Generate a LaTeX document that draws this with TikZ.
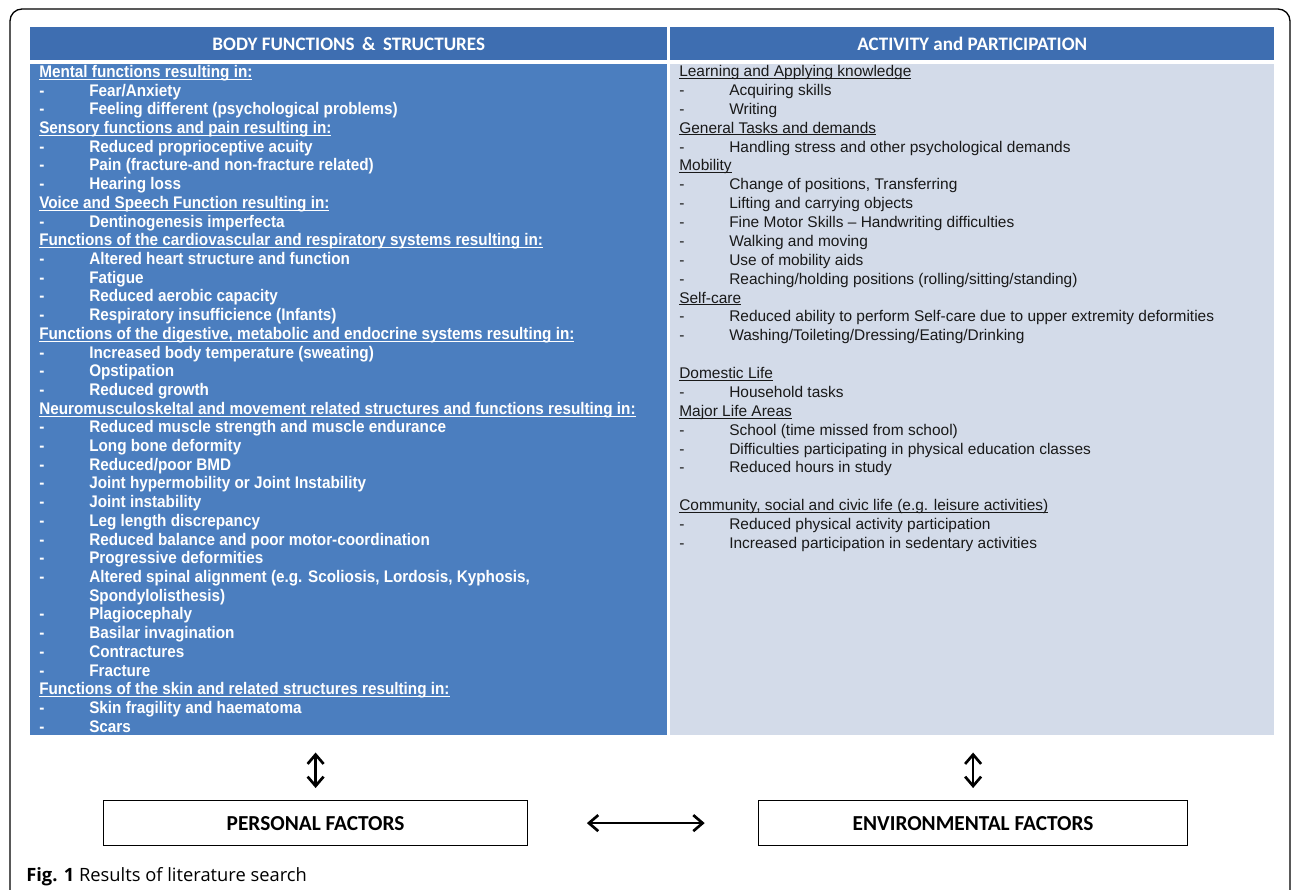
\documentclass[tikz,border=0pt]{standalone}
\usepackage{fontspec}
\setmainfont{Liberation Sans}
\newfontfamily\narrowfont[FakeStretch=0.91]{Liberation Sans}
\newfontfamily\calfont{Carlito}
\newfontfamily\captfont{Open Sans}
\usetikzlibrary{arrows.meta,positioning,calc}

\definecolor{headblue}{HTML}{3E6EB1}
\definecolor{bodyblue}{HTML}{4B7EBF}
\definecolor{paleblue}{HTML}{D3DBE9}

\newcommand{\itm}{\makebox[37.5pt][l]{-}}
\newcommand{\ulhead}[1]{\setbox0\hbox{#1}\rlap{\rule[-1.6pt]{\wd0}{0.6pt}}\box0}

\tikzset{
headbar/.style = {rectangle, text=white, font=\calfont\bfseries\fontsize{14.3}{16}\selectfont, minimum height=24.75pt, inner sep=0pt},
colbox/.style  = {rectangle, minimum height=503.25pt, inner sep=0pt},
bodytext/.style = {align=left, inner sep=0pt, text=white, font=\narrowfont\bfseries\fontsize{12.6}{14.03}\selectfont},
acttext/.style = {align=left, inner sep=0pt, text=black!90, font=\fontsize{11.6}{14.16}\selectfont},
factor/.style = {draw, line width=0.9pt, fill=white, rectangle, minimum height=33.75pt, font=\calfont\bfseries\fontsize{16}{18}\selectfont},
biarrow/.style = {<->, line width=2pt}
}

\begin{document}
\begin{tikzpicture}[x=0.75pt, y=-0.75pt, >={Straight Barb[length=7pt,width=12pt]}]
\clip (0,0) rectangle (1292,889);
\useasboundingbox (0,0) rectangle (1292,889);

% outer frame
\draw[line width=1pt, rounded corners=9pt] (10,900) -- (10,9) -- (1290,9) -- (1290,900);

% column headers
\node[headbar, fill=headblue, minimum width=477.75pt, anchor=north west] (bodyhead) at (30,27) {BODY FUNCTIONS~\,\&~\,STRUCTURES};
\node[headbar, fill=headblue, minimum width=453pt, anchor=north west] (acthead) at (670,27) {ACTIVITY and PARTICIPATION};

% column bodies
\node[colbox, fill=bodyblue, minimum width=477.75pt, anchor=north west] (bodybox) at (30,64) {};
\node[colbox, fill=paleblue, minimum width=453pt, anchor=north west] (actbox) at (670,64) {};

\node[bodytext, anchor=north west] (bodylist) at (39,65) {%
\ulhead{Mental functions resulting in:}\\
\itm Fear/Anxiety\\
\itm Feeling different (psychological problems)\\
\ulhead{Sensory functions and pain resulting in:}\\
\itm Reduced proprioceptive acuity\\
\itm Pain (fracture-and non-fracture related)\\
\itm Hearing loss\\
\ulhead{Voice and Speech Function resulting in:}\\
\itm Dentinogenesis imperfecta\\
\ulhead{Functions of the cardiovascular and respiratory systems resulting in:}\\
\itm Altered heart structure and function\\
\itm Fatigue\\
\itm Reduced aerobic capacity\\
\itm Respiratory insufficience (Infants)\\
\ulhead{Functions of the digestive, metabolic and endocrine systems resulting in:}\\
\itm Increased body temperature (sweating)\\
\itm Opstipation\\
\itm Reduced growth\\
\ulhead{Neuromusculoskeltal and movement related structures and functions resulting in:}\\
\itm Reduced muscle strength and muscle endurance\\
\itm Long bone deformity\\
\itm Reduced/poor BMD\\
\itm Joint hypermobility or Joint Instability\\
\itm Joint instability\\
\itm Leg length discrepancy\\
\itm Reduced balance and poor motor-coordination\\
\itm Progressive deformities\\
\itm Altered spinal alignment (e.g. Scoliosis, Lordosis, Kyphosis,\\
\hspace*{37.5pt}Spondylolisthesis)\\
\itm Plagiocephaly\\
\itm Basilar invagination\\
\itm Contractures\\
\itm Fracture\\
\ulhead{Functions of the skin and related structures resulting in:}\\
\itm Skin fragility and haematoma\\
\itm Scars};

\node[acttext, anchor=north west] (actlist) at (679,65) {%
\ulhead{Learning and Applying knowledge}\\
\itm Acquiring skills\\
\itm Writing\\
\ulhead{General Tasks and demands}\\
\itm Handling stress and other psychological demands\\
\ulhead{Mobility}\\
\itm Change of positions, Transferring\\
\itm Lifting and carrying objects\\
\itm Fine Motor Skills -- Handwriting difficulties\\
\itm Walking and moving\\
\itm Use of mobility aids\\
\itm Reaching/holding positions (rolling/sitting/standing)\\
\ulhead{Self-care}\\
\itm Reduced ability to perform Self-care due to upper extremity deformities\\
\itm Washing/Toileting/Dressing/Eating/Drinking\\
\mbox{}\\
\ulhead{Domestic Life}\\
\itm Household tasks\\
\ulhead{Major Life Areas}\\
\itm School (time missed from school)\\
\itm Difficulties participating in physical education classes\\
\itm Reduced hours in study\\
\mbox{}\\
\ulhead{Community, social and civic life (e.g. leisure activities)}\\
\itm Reduced physical activity participation\\
\itm Increased participation in sedentary activities};

% factor boxes
\node[factor, minimum width=318pt, anchor=north west] (personal) at (103,800) {PERSONAL FACTORS};
\node[factor, minimum width=321.75pt, anchor=north west] (environ) at (758,800) {ENVIRONMENTAL FACTORS};

% links
\draw[biarrow, shorten <=12.75pt, shorten >=9pt] (personal.north |- bodybox.south) -- (personal.north);
\draw[biarrow, shorten <=12.75pt, shorten >=9pt] (environ.north |- actbox.south) -- (environ.north);
\draw[biarrow, shorten <=44pt, shorten >=40pt] (personal.east) -- (environ.west);

% caption
\node[anchor=base west, inner sep=0pt, font=\captfont\fontsize{13.75}{16}\selectfont] (caption) at (26,881) {\textbf{Fig. 1} Results of literature search};
\end{tikzpicture}
\end{document}
